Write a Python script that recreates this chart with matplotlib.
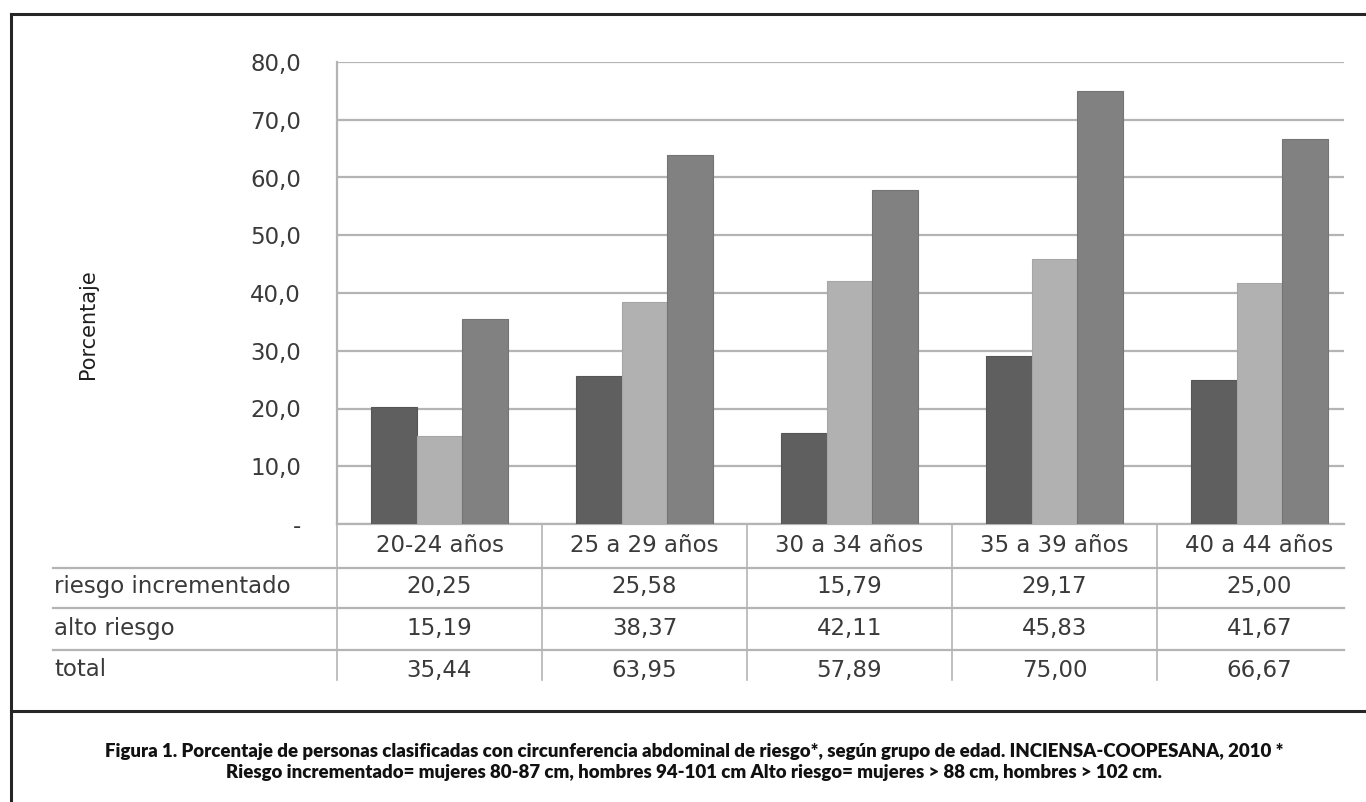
import matplotlib
matplotlib.use("Agg")
import matplotlib.pyplot as plt
import matplotlib.transforms as mtransforms
from matplotlib.lines import Line2D

plt.rcParams['font.family'] = ['DejaVu Sans']

categories = ['20-24 años', '25 a 29 años', '30 a 34 años', '35 a 39 años', '40 a 44 años']
series_names = ['riesgo incrementado', 'alto riesgo', 'total']
riesgo_incrementado = [20.25, 25.58, 15.79, 29.17, 25.00]
alto_riesgo = [15.19, 38.37, 42.11, 45.83, 41.67]
total = [35.44, 63.95, 57.89, 75.00, 66.67]
yticks = [0, 10, 20, 30, 40, 50, 60, 70, 80]
ytick_labels = ['-', '10,0', '20,0', '30,0', '40,0', '50,0', '60,0', '70,0', '80,0']
caption = ("Figura 1. Porcentaje de personas clasificadas con circunferencia abdominal de riesgo*, "
           "según grupo de edad. INCIENSA-COOPESANA, 2010 *\n"
           "Riesgo incrementado= mujeres 80-87 cm, hombres 94-101 cm Alto riesgo= mujeres > 88 cm, hombres > 102 cm.")

colors = ['#5f5f5f', '#b1b1b1', '#818181']
edges = ['#565656', '#a6a6a6', '#747474']
grid_c = '#b4b4b4'
text_c = '#3a3a3a'

W, H = 1366, 802
fig = plt.figure(figsize=(W / 100, H / 100), dpi=100)

# overlay in pixel coordinates for frame and table rows
ov = fig.add_axes([0, 0, 1, 1], zorder=0)
ov.set_xlim(0, W)
ov.set_ylim(H, 0)
ov.axis('off')

# bar area (pixels 337..1344 x 62..524)
x0, x1, ytop, ybot = 337, 1344, 62, 524
ax = fig.add_axes([x0 / W, 1 - ybot / H, (x1 - x0) / W, (ybot - ytop) / H], zorder=1)
ax.patch.set_alpha(0)
col_w = 205.0
ax.set_xlim(-0.5, -0.5 + (x1 - x0) / col_w)
ax.set_ylim(0, 80)

bw = 0.222
for i, (vals, c, e) in enumerate(zip([riesgo_incrementado, alto_riesgo, total], colors, edges)):
    xs = [k + (i - 1) * bw for k in range(len(categories))]
    ax.bar(xs, vals, width=bw, color=c, edgecolor=e, linewidth=0.8, zorder=3)

ax.set_yticks(yticks)
ax.set_yticklabels(ytick_labels, fontsize=16.5, color=text_c)
ax.tick_params(axis='y', length=0, pad=26)
ax.set_xticks([])
ax.yaxis.grid(True, color=grid_c, linewidth=1.6, zorder=0)
for s in ['top', 'right']:
    ax.spines[s].set_visible(False)
ax.spines['left'].set_color(grid_c)
ax.spines['left'].set_linewidth(1.6)
ax.spines['bottom'].set_color(grid_c)
ax.spines['bottom'].set_linewidth(1.6)

fig.text(88 / W, 1 - 324 / H, 'Porcentaje', rotation=90, ha='center', va='center',
         fontsize=15, color='#1e1e1e')

# data table under the chart
tr = mtransforms.blended_transform_factory(ax.transData, ov.transData)
row_y = [546, 587, 628, 670]
for k, cat in enumerate(categories):
    ov.text(k, row_y[0], cat, transform=tr, ha='center', va='center', fontsize=16.5, color=text_c)
for r, (name, vals) in enumerate(zip(series_names, [riesgo_incrementado, alto_riesgo, total])):
    ov.text(54, row_y[r + 1], name, ha='left', va='center', fontsize=16.5, color=text_c)
    for k, v in enumerate(vals):
        ov.text(k, row_y[r + 1], f"{v:.2f}".replace('.', ','), transform=tr,
                ha='center', va='center', fontsize=16.5, color=text_c)

for y in [568, 608, 650]:
    ov.add_line(Line2D([53, x1], [y, y], color=grid_c, linewidth=1.6))
for k in range(len(categories)):
    xb = x0 + k * col_w
    ov.add_line(Line2D([xb, xb], [ybot, 680], color=grid_c, linewidth=1.2))

# outer frame and caption box
ov.add_line(Line2D([11, W], [14, 14], color='#262626', linewidth=2.2))
ov.add_line(Line2D([11, 11], [14, H], color='#262626', linewidth=2.2))
ov.add_line(Line2D([11, W], [711, 711], color='#262626', linewidth=2.2))

fig.text(694 / W, 1 - 762 / H, caption, ha='center', va='center', fontsize=13.4,
         fontweight='heavy', family=['Lato', 'DejaVu Sans'], linespacing=1.35,
         color='#111111')

fig.savefig('out.png', dpi=100)
